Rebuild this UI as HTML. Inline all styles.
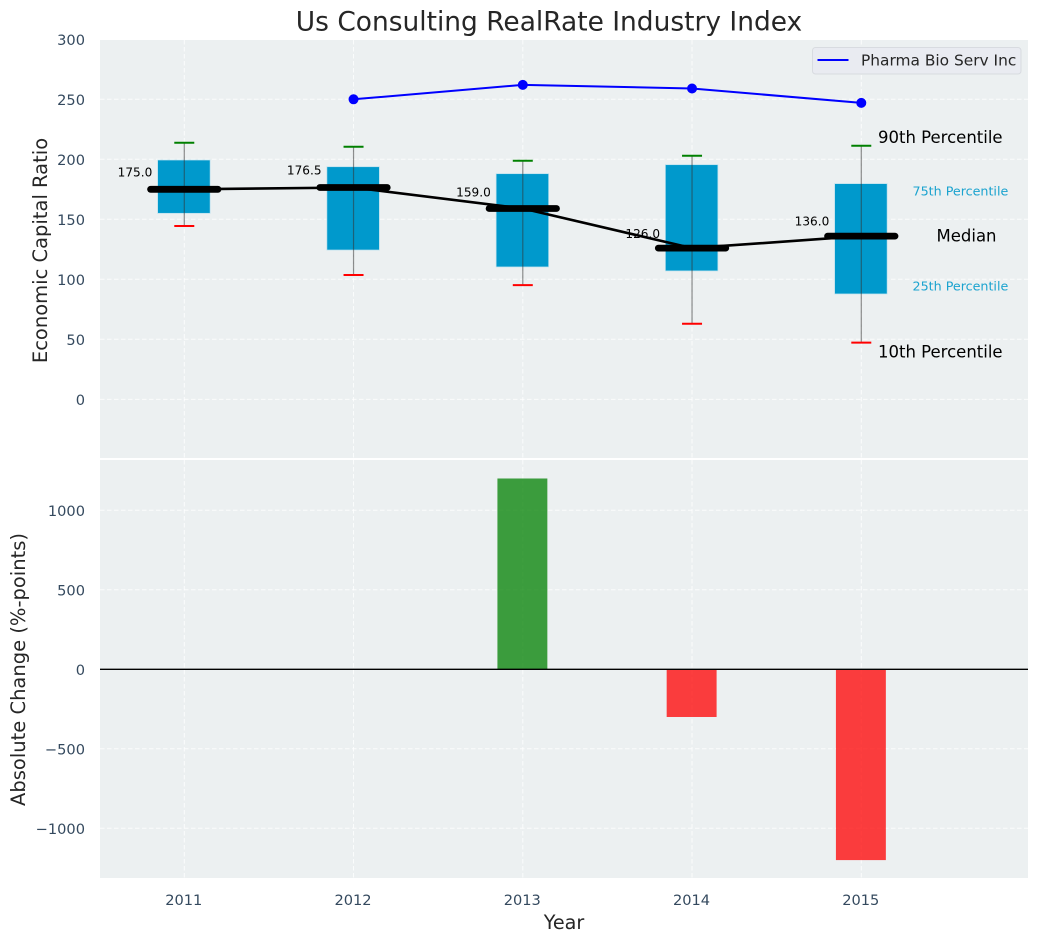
<!DOCTYPE html>
<html lang="en">
<head>
<meta charset="utf-8">
<title>Us Consulting RealRate Industry Index</title>
<style>
html,body{margin:0;padding:0;background:#fff;}
body{width:1039px;height:942px;overflow:hidden;}
svg{display:block;font-family:"DejaVu Sans","Liberation Sans",sans-serif;}
</style>
</head>
<body>
<svg id="chart" xmlns="http://www.w3.org/2000/svg" width="1039" height="942" viewBox="0 0 1039 942"></svg>
<script>
const years = [2011, 2012, 2013, 2014, 2015];
const p90 = [213.8, 210.5, 198.8, 203, 211.3];
const p75 = [199.4, 193.8, 188, 195.5, 179.7];
const medians = [175, 176.5, 159, 126, 136];
const p25 = [155, 124.4, 110.3, 107, 87.8];
const p10 = [144.4, 103.6, 95.2, 63, 47.2];
const companyYears = [2012, 2013, 2014, 2015];
const companyValues = [250, 262, 259, 247];
const changeYears = [2013, 2014, 2015];
const changeValues = [1200, -300, -1200];
const topTicks = [0, 50, 100, 150, 200, 250, 300];
const bottomTicks = [-1000, -500, 0, 500, 1000];
const titleText = 'Us Consulting RealRate Industry Index';
const companyName = 'Pharma Bio Serv Inc';

const NS = 'http://www.w3.org/2000/svg';
const svg = document.getElementById('chart');
const L = 100, R = 1028, T1 = 40, B1 = 458, T2 = 460, B2 = 878;
const X0 = 2010.502, X1 = 2015.985;
const Y1MIN = -48.9, Y1MAX = 299.4;
const Y2MIN = -1312.6, Y2MAX = 1316.3;
const x = v => L + (v - X0) / (X1 - X0) * (R - L);
const y1 = v => B1 - (v - Y1MIN) / (Y1MAX - Y1MIN) * (B1 - T1);
const y2 = v => B2 - (v - Y2MIN) / (Y2MAX - Y2MIN) * (B2 - T2);
const dx = v => v / (X1 - X0) * (R - L);
function make(tag, props, text) {
  const el = document.createElementNS(NS, tag);
  for (const k in props) el.setAttribute(k, props[k]);
  if (text !== undefined) el.textContent = text;
  svg.appendChild(el);
  return el;
}
const TICK = '#34495e', INK = '#262626', BG = '#ecf0f1', BOX = '#0099cc';
const GRID = {stroke: '#fff', 'stroke-width': 1, 'stroke-dasharray': '4.5 2.5', 'stroke-opacity': 0.8};

let el;
el = make('rect', {x: L, y: T1, width: R - L, height: B1 - T1, fill: BG});


el = make('rect', {x: L, y: T2, width: R - L, height: B2 - T2, fill: BG});



topTicks.forEach(t => {
  const g = make('line', Object.assign({x1: L, x2: R, y1: y1(t), y2: y1(t)}, GRID));
  
  
  const l = make('text', {x: 85, y: y1(t) + 5.6, 'text-anchor': 'end', 'font-size': 14.6, fill: TICK}, String(t));
  
  
});
bottomTicks.forEach(t => {
  const g = make('line', Object.assign({x1: L, x2: R, y1: y2(t), y2: y2(t)}, GRID));
  
  
  const label = t < 0 ? '\u2212' + Math.abs(t) : String(t);
  const l = make('text', {x: 85, y: y2(t) + 5.6, 'text-anchor': 'end', 'font-size': 14.6, fill: TICK}, label);
  
  
});
years.forEach(yr => {
  const a = make('line', Object.assign({x1: x(yr), x2: x(yr), y1: T1, y2: B1}, GRID));
  
  
  const b = make('line', Object.assign({x1: x(yr), x2: x(yr), y1: T2, y2: B2}, GRID));
  
  
  const l = make('text', {x: x(yr) - 0.5, y: 905, 'text-anchor': 'middle', 'font-size': 14.6, fill: TICK}, String(yr));
  
  
});

/* percentile boxes */
years.forEach((yr, i) => {
  const cx = x(yr), w = dx(0.31);
  const b = make('rect', {x: cx - w / 2 - 0.4, y: y1(p75[i]), width: w, height: y1(p25[i]) - y1(p75[i]), fill: BOX, stroke: '#b9e0ee', 'stroke-width': 0.7});
  
  
  const wh = make('line', {x1: cx, x2: cx, y1: y1(p90[i]), y2: y1(p10[i]), stroke: '#333', 'stroke-opacity': 0.55, 'stroke-width': 1.2});
  
  
  const hi = make('line', {x1: cx - 10, x2: cx + 10, y1: y1(p90[i]), y2: y1(p90[i]), stroke: '#008000', 'stroke-width': 2});
  
  
  const lo = make('line', {x1: cx - 10, x2: cx + 10, y1: y1(p10[i]), y2: y1(p10[i]), stroke: '#ff0000', 'stroke-width': 2});
  
  
});

/* median trend line */
el = make('polyline', {points: years.map((yr, i) => x(yr) + ',' + y1(medians[i])).join(' '), fill: 'none', stroke: '#000', 'stroke-width': 2.6});



years.forEach((yr, i) => {
  const cx = x(yr), cy = y1(medians[i]);
  const m = make('line', {x1: cx - 33.7, x2: cx + 33.7, y1: cy, y2: cy, stroke: '#000', 'stroke-width': 6.8, 'stroke-linecap': 'round'});
  
  
  const offset = 8.5 + 0.05 * medians[i];
  const t = make('text', {x: cx - 32, y: cy - offset + 4.5, 'text-anchor': 'end', 'font-size': 12.1, fill: '#000'}, medians[i].toFixed(1));
  
  
});

/* company line */
el = make('polyline', {points: companyYears.map((yr, i) => x(yr) + ',' + y1(companyValues[i])).join(' '), fill: 'none', stroke: '#0000ff', 'stroke-width': 2});


companyYears.forEach((yr, i) => {
  const c = make('circle', {cx: x(yr), cy: y1(companyValues[i]), r: 5, fill: '#0000ff'});
  
  
});

/* percentile annotations anchored on last year */
const last = years.length - 1;
el = make('text', {x: 878, y: y1(p90[last]) - 2.5, 'font-size': 16.5, fill: '#000'}, '90th Percentile');


el = make('text', {x: 912.5, y: y1(p75[last]) + 12, 'font-size': 12.7, fill: '#1ba3cf'}, '75th Percentile');


el = make('text', {x: 936.5, y: y1(medians[last]) + 5.5, 'font-size': 16.5, fill: '#000'}, 'Median');


el = make('text', {x: 912.5, y: y1(p25[last]) - 3.5, 'font-size': 12.7, fill: '#1ba3cf'}, '25th Percentile');


el = make('text', {x: 878, y: y1(p10[last]) + 15, 'font-size': 16.5, fill: '#000'}, '10th Percentile');



/* legend */
el = make('rect', {x: 812.5, y: 47.5, width: 208.5, height: 26.5, rx: 3, fill: '#e9ebf1', stroke: '#d8dbe0', 'stroke-width': 1});


el = make('line', {x1: 817.5, x2: 848.5, y1: 60, y2: 60, stroke: '#0000ff', 'stroke-width': 2});


el = make('text', {x: 861, y: 65.5, 'font-size': 15.4, fill: INK}, companyName);



/* change bars */
changeYears.forEach((yr, i) => {
  const v = changeValues[i], w = dx(0.295);
  const top = y2(Math.max(v, 0)), bot = y2(Math.min(v, 0));
  const b = make('rect', {x: x(yr) - w / 2 - 0.4, y: top, width: w, height: bot - top, fill: v >= 0 ? '#008000' : '#ff0000', 'fill-opacity': 0.75});
  
  
});
el = make('line', {x1: L, x2: R, y1: y2(0), y2: y2(0), stroke: '#000', 'stroke-width': 1.4});



/* titles */
el = make('text', {x: 549, y: 30.3, 'text-anchor': 'middle', 'font-size': 26.45, fill: INK}, titleText);


el = make('text', {x: 564, y: 929, 'text-anchor': 'middle', 'font-size': 19.2, fill: INK}, 'Year');


el = make('text', {transform: 'translate(47,250.5) rotate(-90)', 'text-anchor': 'middle', 'font-size': 19.5, fill: INK}, 'Economic Capital Ratio');


el = make('text', {transform: 'translate(25,669.5) rotate(-90)', 'text-anchor': 'middle', 'font-size': 19.5, fill: INK}, 'Absolute Change (%-points)');


</script>
</body>
</html>
